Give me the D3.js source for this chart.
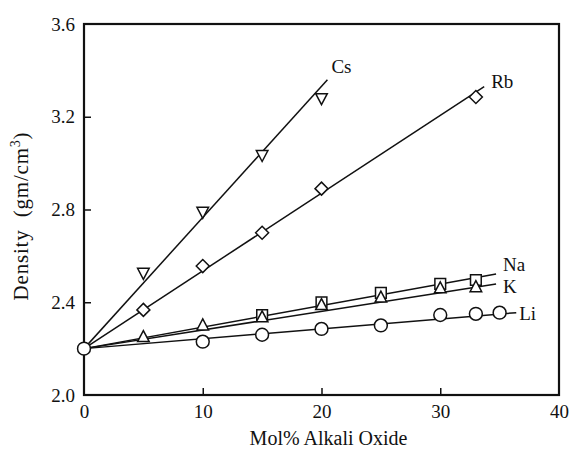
<!DOCTYPE html>
<html>
<head>
<meta charset="utf-8">
<script src="https://cdn.jsdelivr.net/npm/d3@7"></script>
<style>
  body { margin: 0; background: #fff; }
  text { font-family: "Liberation Serif", "DejaVu Serif", serif; fill: #111; }
</style>
</head>
<body>
<div id="chart"></div>
<script>
// series data (mol% alkali oxide vs density)
var seriesNames = ["Cs", "Rb", "Na", "K", "Li"];

var csX = [5, 10, 15, 20];
var csY = [2.527, 2.79, 3.035, 3.28];

var rbX = [5, 10, 15, 20, 33];
var rbY = [2.367, 2.556, 2.70, 2.89, 3.285];

var naX = [15, 20, 25, 30, 33];
var naY = [2.345, 2.40, 2.44, 2.479, 2.496];

var kX = [5, 10, 15, 20, 25, 30, 33];
var kY = [2.25, 2.30, 2.335, 2.388, 2.42, 2.46, 2.465];

var liX = [0, 10, 15, 20, 25, 30, 33, 35];
var liY = [2.2, 2.23, 2.26, 2.285, 2.30, 2.345, 2.35, 2.355];

// fitted lines: common origin and end point for each series
var fitStart = [0, 2.2];
var fitEndX = [20.5, 33.7, 34.7, 34.7, 36.4];
var fitEndY = [3.36, 3.33, 2.522, 2.479, 2.355];

var xTicks = [0, 10, 20, 30, 40];
var yTicks = [2.0, 2.4, 2.8, 3.2, 3.6];

// styles
var markers = ["invTriangle", "diamond", "square", "triangle", "circle"];
var labelOffset = [[4, -7], [7, 1], [7, -3], [7, 9], [3, 7]];

var width = 570, height = 451;
var margin = {top: 24, right: 11, bottom: 56, left: 84};

var svg = d3.select("#chart").append("svg")
  .attr("width", width)
  .attr("height", height);

var x = d3.scaleLinear().domain([0, 40]).range([margin.left, width - margin.right]);
var y = d3.scaleLinear().domain([2.0, 3.6]).range([height - margin.bottom, margin.top]);

var data = [
  d3.zip(csX, csY), d3.zip(rbX, rbY), d3.zip(naX, naY),
  d3.zip(kX, kY), d3.zip(liX, liY)
];

// axes with inward ticks
var xAxis = d3.axisBottom(x).tickValues(xTicks).tickSize(-7).tickPadding(10).tickFormat(d3.format("d"));
var yAxis = d3.axisLeft(y).tickValues(yTicks).tickSize(-7).tickPadding(9).tickFormat(d3.format(".1f"));

svg.append("g")
  .attr("transform", "translate(0," + y(2.0) + ")")
  .call(xAxis)
  .call(function(g){
    g.select(".domain").remove();
    g.selectAll("line").attr("stroke", "#111").attr("stroke-width", 1.5)
      .filter(function(d){ return d === 0 || d === 40; }).remove();
    g.selectAll("text").style("font-size", "19px");
  });

svg.append("g")
  .attr("transform", "translate(" + x(0) + ",0)")
  .call(yAxis)
  .call(function(g){
    g.select(".domain").remove();
    g.selectAll("line").attr("stroke", "#111").attr("stroke-width", 1.5)
      .filter(function(d){ return d === 2.0 || d === 3.6; }).remove();
    g.selectAll("text").style("font-size", "19px");
  });

// frame
svg.append("rect")
  .attr("x", x(0)).attr("y", y(3.6))
  .attr("width", x(40) - x(0)).attr("height", y(2.0) - y(3.6))
  .attr("fill", "none").attr("stroke", "#111").attr("stroke-width", 2.2);

// fit lines
seriesNames.forEach(function(name, i){
  svg.append("line")
    .attr("x1", x(fitStart[0])).attr("y1", y(fitStart[1]))
    .attr("x2", x(fitEndX[i])).attr("y2", y(fitEndY[i]))
    .attr("stroke", "#111").attr("stroke-width", 1.5);

  svg.append("text")
    .attr("x", x(fitEndX[i]) + labelOffset[i][0])
    .attr("y", y(fitEndY[i]) + labelOffset[i][1])
    .style("font-size", "19px")
    .text(name);
});

// markers
var shapes = {
  circle: d3.symbol().type(d3.symbolCircle).size(130),
  square: d3.symbol().type(d3.symbolSquare).size(115),
  diamond: function(){ return "M0,-6.5L6.5,0L0,6.5L-6.5,0Z"; },
  triangle: function(){ return "M0,-6.5L5.8,4.5L-5.8,4.5Z"; },
  invTriangle: function(){ return "M0,6.5L5.8,-4.5L-5.8,-4.5Z"; }
};

// Na squares drawn before K triangles so triangles sit inside the squares
data.forEach(function(pts, i){
  svg.append("g").selectAll("path")
    .data(pts)
    .enter().append("path")
    .attr("transform", function(d){ return "translate(" + x(d[0]) + "," + y(d[1]) + ")"; })
    .attr("d", shapes[markers[i]])
    .attr("fill", "#fff")
    .attr("stroke", "#111")
    .attr("stroke-width", 1.5);
});

// axis titles
svg.append("text")
  .attr("x", (x(0) + x(40)) / 2 + 7)
  .attr("y", 445)
  .attr("text-anchor", "middle")
  .style("font-size", "20px")
  .text("Mol% Alkali Oxide");

var yTitle = svg.append("text")
  .attr("transform", "translate(28,216) rotate(-90)")
  .attr("text-anchor", "middle")
  .style("font-size", "21px")
  .style("letter-spacing", "0.8px")
  .style("white-space", "pre");
yTitle.append("tspan").text("Density  (gm/cm");
yTitle.append("tspan").attr("dy", -8).style("font-size", "14px").text("3");
yTitle.append("tspan").attr("dy", 8).text(")");
</script>
</body>
</html>
